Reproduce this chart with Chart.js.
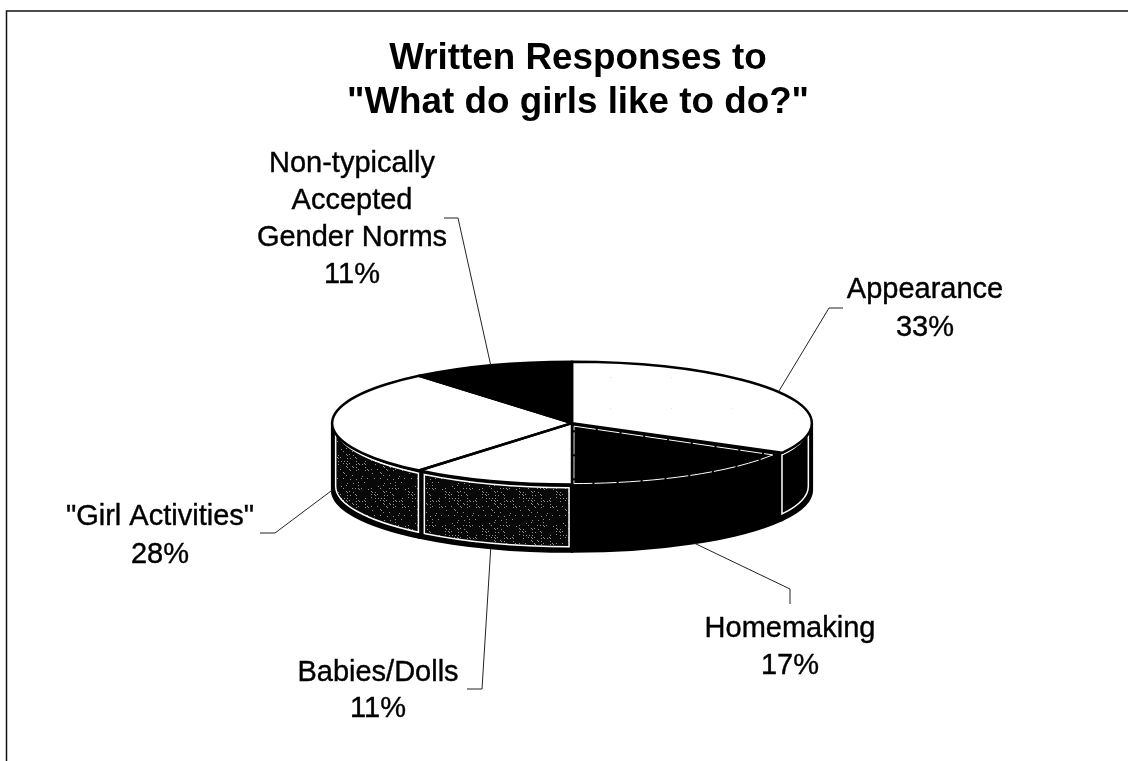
<!DOCTYPE html>
<html>
<head>
<meta charset="utf-8">
<title>Written Responses</title>
<script src="https://cdn.jsdelivr.net/npm/chart.js@4"></script>
<style>
  html, body { margin: 0; padding: 0; background: #fff; }
  canvas { display: block; }
</style>
</head>
<body>
<canvas id="myChart" width="1128" height="761"></canvas>
<script>
// data
const titleLines = ['Written Responses to', '"What do girls like to do?"'];
const categories = ['Appearance', 'Homemaking', 'Babies/Dolls', '"Girl Activities"',
  ['Non-typically', 'Accepted', 'Gender Norms']];
const shares = [33, 17, 11, 28, 11];

// look of the fake 3d pie
const squash = 61.5 / 240;   // top ellipse height / width
const depth = 67;            // height of the side wall

// small tiles for the scanned texture
function makeTile(size, base, dot, test) {
  const c = document.createElement('canvas');
  c.width = c.height = size;
  const t = c.getContext('2d');
  t.fillStyle = base;
  t.fillRect(0, 0, size, size);
  t.fillStyle = dot;
  for (let x = 0; x < size; x++) {
    for (let y = 0; y < size; y++) {
      if (test(x, y)) t.fillRect(x, y, 1, 1);
    }
  }
  return t.createPattern(c, 'repeat');
}
const stipple = makeTile(37, '#080808', '#8f8f8f', (x, y) => (x * x * 3 + y * y * 7 + x * y) % 37 % 5 === 0 && (x * y) % 3 === 1);
const speckle = makeTile(61, '#ffffff', '#c4c4c4', (x, y) => (x * x * 5 + y * y * 11 + x * y * 3) % 61 === 0);

const topColors = [speckle, '#000', '#fff', '#fff', '#000'];
const wallColors = [ '#000', '#000', stipple, stipple ];
const wallEdges = ['#fff', null, '#fff', '#fff'];

// label text centre + baseline of first line, and the elbow of the leader line
const labelSpots = [
  { x: 925, y: 298, gap: 38, elbow: [829, 308], end: [843, 308] },
  { x: 790, y: 637, gap: 37, elbow: [790, 589], end: [790, 604] },
  { x: 378, y: 681, gap: 36, elbow: [482, 689], end: [467, 689] },
  { x: 160, y: 525, gap: 38, elbow: [275, 533], end: [260, 533] },
  { x: 352, y: 172, gap: 37, elbow: [458, 218], end: [444, 218] },
];

function wallPath(ctx, cx, yTop, yBot, rx, from, to) {
  ctx.beginPath();
  ctx.ellipse(cx, yTop, rx, rx * squash, 0, from, to);
  ctx.ellipse(cx, yBot, rx, rx * squash, 0, to, from, true);
  ctx.closePath();
}

// angle that moves a wall edge about 3px sideways, none near the pie's ends
function edgeInset(angle, r) {
  const s = Math.sin(angle);
  return s > 0.3 ? 3 / (r * s) : 0;
}

const pie3d = {
  id: 'pie3d',
  afterLayout(chart) {
    // title sits a little right of the pie
    chart.titleBlock.left += 12;
  },
  beforeDraw(chart) {
    const ctx = chart.ctx;
    ctx.save();
    ctx.strokeStyle = '#111';
    ctx.lineWidth = 1.5;
    ctx.beginPath();
    ctx.moveTo(6.5, 761);
    ctx.lineTo(6.5, 11);
    ctx.lineTo(1128, 11);
    ctx.stroke();
    ctx.restore();
  },
  beforeDatasetsDraw(chart) {
    const ctx = chart.ctx;
    const arcs = chart.getDatasetMeta(0).data;
    const cx = arcs[0].x, cy = arcs[0].y, r = arcs[0].outerRadius;
    // side walls, only the front half of the pie shows them
    arcs.forEach((a, i) => {
      const from = Math.max(a.startAngle, 0);
      const to = Math.min(a.endAngle, Math.PI);
      if (to <= from) return;
      ctx.save();
      wallPath(ctx, cx, cy, cy + depth, r, from, to);
      ctx.fillStyle = '#000';
      ctx.fill();
      ctx.strokeStyle = '#000';
      ctx.lineWidth = 2.5;
      ctx.stroke();
      ctx.restore();
    });
    arcs.forEach((a, i) => {
      const from = Math.max(a.startAngle, 0);
      const to = Math.min(a.endAngle, Math.PI);
      if (to <= from || !wallEdges[i]) return;
      ctx.save();
      wallPath(ctx, cx, cy + 4, cy + depth - 4, r - 3.5, from + edgeInset(from, r), to - edgeInset(to, r));
      ctx.fillStyle = wallColors[i];
      ctx.fill();
      ctx.strokeStyle = wallEdges[i];
      ctx.lineWidth = 1.5;
      ctx.stroke();
      ctx.restore();
    });
    // squash the real pie into the top ellipse
    ctx.save();
    ctx.translate(0, cy);
    ctx.scale(1, squash);
    ctx.translate(0, -cy);
  },
  afterDatasetsDraw(chart) {
    const ctx = chart.ctx;
    ctx.restore();
    const arcs = chart.getDatasetMeta(0).data;
    const cx = arcs[0].x, cy = arcs[0].y, r = arcs[0].outerRadius;

    // white inner edge on the black homemaking slice
    const h = arcs[1];
    ctx.save();
    ctx.beginPath();
    ctx.moveTo(cx + 2, cy + 3);
    ctx.ellipse(cx, cy, r - 4, (r - 4) * squash, 0, h.startAngle + 0.05, h.endAngle - 0.008);
    ctx.closePath();
    ctx.strokeStyle = '#fff';
    ctx.lineWidth = 1;
    ctx.setLineDash([22, 2]);
    ctx.stroke();
    ctx.setLineDash([]);

    // black slice edges, stroked unscaled so the width stays even
    ctx.strokeStyle = '#000';
    ctx.lineWidth = 2.5;
    ctx.lineJoin = 'round';
    arcs.forEach((a, i) => {
      if (i === 1) return;
      ctx.beginPath();
      ctx.moveTo(cx, cy);
      ctx.ellipse(cx, cy, r, r * squash, 0, a.startAngle, a.endAngle);
      ctx.closePath();
      ctx.stroke();
    });

    // labels and leader lines
    const fontSize = 29;
    arcs.forEach((a, i) => {
      const spot = labelSpots[i];
      const mid = (a.startAngle + a.endAngle) / 2;
      const ax = cx + r * Math.cos(mid);
      let ay = cy + r * squash * Math.sin(mid);
      if (Math.sin(mid) > -0.01) ay += depth;
      ctx.strokeStyle = '#222';
      ctx.lineWidth = 1;
      ctx.beginPath();
      ctx.moveTo(ax, ay);
      ctx.lineTo(spot.elbow[0], spot.elbow[1]);
      ctx.lineTo(spot.end[0], spot.end[1]);
      ctx.stroke();

      const lines = [].concat(categories[i], shares[i] + '%');
      ctx.fillStyle = '#000';
      ctx.strokeStyle = '#000';
      ctx.lineWidth = 0.4;
      ctx.font = fontSize + 'px "Liberation Sans"';
      ctx.textAlign = 'center';
      ctx.textBaseline = 'alphabetic';
      lines.forEach((t, n) => {
        ctx.fillText(t, spot.x, spot.y + n * spot.gap);
        ctx.strokeText(t, spot.x, spot.y + n * spot.gap);
      });
    });
    ctx.restore();
  },
};

const ctx = document.getElementById('myChart').getContext('2d');
const chart = new Chart(ctx, {
  type: 'pie',
  data: {
    labels: categories,
    datasets: [{
      data: shares,
      backgroundColor: topColors,
      borderWidth: 0,
    }],
  },
  options: {
    responsive: false,
    animation: false,
    layout: { padding: { left: 332, right: 316, top: 37, bottom: 98 } },
    plugins: {
      legend: { display: false },
      tooltip: { enabled: false },
      title: {
        display: true,
        text: titleLines,
        color: '#000',
        font: { family: '"Liberation Sans"', size: 36.8, weight: 'bold', lineHeight: 1.2 },
        padding: { top: 0, bottom: 58 },
      },
    },
  },
  plugins: [pie3d],
});
</script>
</body>
</html>
